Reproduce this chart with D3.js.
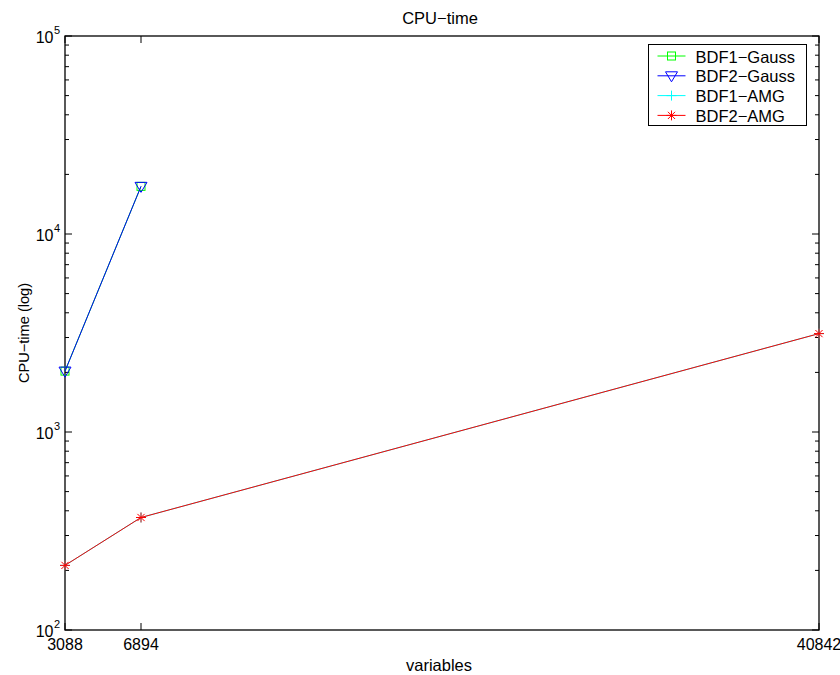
<!DOCTYPE html>
<html><head><meta charset="utf-8">
<script src="https://cdn.jsdelivr.net/npm/d3@7"></script>
<style>body{margin:0;background:#fff}svg{display:block}text{font-family:"Liberation Sans",Arial,sans-serif;fill:#000}</style>
</head><body><svg id="c" width="840" height="675"></svg>
<script>
const variables = [3088, 6894, 40842];
const bdf1Gauss = [2030, 17400];
const bdf2Gauss = [2030, 17400];
const bdf1AMG = [212, 370, 3140];
const bdf2AMG = [212, 370, 3140];
const xTicks = [3088, 6894, 40842];
const yDecades = [2, 3, 4, 5];
const seriesNames = ["BDF1\u2212Gauss", "BDF2\u2212Gauss", "BDF1\u2212AMG", "BDF2\u2212AMG"];

const L = 65, R = 819, T = 36, B = 630;
const svg = d3.select("#c");
const x = d3.scaleLinear().domain([3088, 40842]).range([L, R]);
const y = d3.scaleLog().domain([100, 100000]).range([B, T]);

// axes box
svg.append("rect").attr("x", L).attr("y", T).attr("width", R - L).attr("height", B - T)
  .attr("fill", "none").attr("stroke", "#000").attr("stroke-width", 1.3);

// x ticks (bottom and top)
const g = svg.append("g").attr("stroke", "#000").attr("stroke-width", 1);
xTicks.forEach(v => {
  g.append("line").attr("x1", x(v)).attr("x2", x(v)).attr("y1", B).attr("y2", B - 7);
  g.append("line").attr("x1", x(v)).attr("x2", x(v)).attr("y1", T).attr("y2", T + 7);
  svg.append("text").attr("x", x(v)).attr("y", B + 20).attr("text-anchor", "middle")
    .attr("font-size", 16).text(v);
});
// y ticks major and minor
for (let e = 2; e <= 5; e++) {
  const v = Math.pow(10, e);
  g.append("line").attr("x1", L).attr("x2", L + 7).attr("y1", y(v)).attr("y2", y(v));
  g.append("line").attr("x1", R).attr("x2", R - 7).attr("y1", y(v)).attr("y2", y(v));
  if (e < 5) for (let m = 2; m <= 9; m++) {
    const w = m * v;
    g.append("line").attr("x1", L).attr("x2", L + 4).attr("y1", y(w)).attr("y2", y(w));
    g.append("line").attr("x1", R).attr("x2", R - 4).attr("y1", y(w)).attr("y2", y(w));
  }
}
yDecades.forEach(e => {
  const yy = y(Math.pow(10, e));
  svg.append("text").attr("x", 53.5).attr("y", yy + 6.5)
    .attr("text-anchor", "end").attr("font-size", 16).text("10");
  svg.append("text").attr("x", 54).attr("y", yy - 2)
    .attr("font-size", 11).text(e);
});

// title and labels
svg.append("text").attr("x", 440).attr("y", 24).attr("text-anchor", "middle").attr("font-size", 16.5).text("CPU\u2212time");
svg.append("text").attr("x", 439).attr("y", 671).attr("text-anchor", "middle").attr("font-size", 16.5).text("variables");
svg.append("text").attr("transform", "translate(29,333) rotate(-90)").attr("text-anchor", "middle").attr("font-size", 14.6).text("CPU\u2212time (log)");

const line = d3.line().x(d => x(d[0])).y(d => y(d[1]));
const cols = ["#00ff00", "#0000ff", "#00ffff", "#ff0000"];
const data = [bdf1Gauss, bdf2Gauss, bdf1AMG, bdf2AMG].map(a => a.map((v, i) => [variables[i], v]));

function marker(sel, k, cx, cy) {
  const c = cols[k];
  const gg = sel.append("g").attr("stroke", c).attr("fill", "none").attr("stroke-width", 1);
  if (k === 0) gg.append("rect").attr("x", cx - 4).attr("y", cy - 4).attr("width", 8).attr("height", 8);
  else if (k === 1) gg.append("path").attr("d", `M${cx - 6},${cy - 4}L${cx + 6},${cy - 4}L${cx},${cy + 6}Z`);
  else if (k === 2) gg.append("path").attr("d", `M${cx - 5},${cy}H${cx + 5}M${cx},${cy - 5}V${cy + 5}`);
  else gg.append("path").attr("d", `M${cx - 5},${cy}H${cx + 5}M${cx},${cy - 5}V${cy + 5}M${cx - 3.6},${cy - 3.6}L${cx + 3.6},${cy + 3.6}M${cx - 3.6},${cy + 3.6}L${cx + 3.6},${cy - 3.6}`);
}

data.forEach((d, k) => {
  svg.append("path").attr("d", line(d)).attr("fill", "none").attr("stroke", cols[k]).attr("stroke-width", 1);
  d.forEach(p => marker(svg, k, x(p[0]), y(p[1])));
});

// legend
const lg = svg.append("g");
lg.append("rect").attr("x", 648.5).attr("y", 44.5).attr("width", 158).attr("height", 81)
  .attr("fill", "#fff").attr("stroke", "#000").attr("stroke-width", 1);
seriesNames.forEach((n, k) => {
  const yy = 56 + k * 19.8;
  lg.append("line").attr("x1", 657.5).attr("x2", 685.5).attr("y1", yy).attr("y2", yy).attr("stroke", cols[k]);
  marker(lg, k, 671.5, yy);
  lg.append("text").attr("x", 695.5).attr("y", yy + 6.5).attr("font-size", 16.5).text(n);
});
</script></body></html>
